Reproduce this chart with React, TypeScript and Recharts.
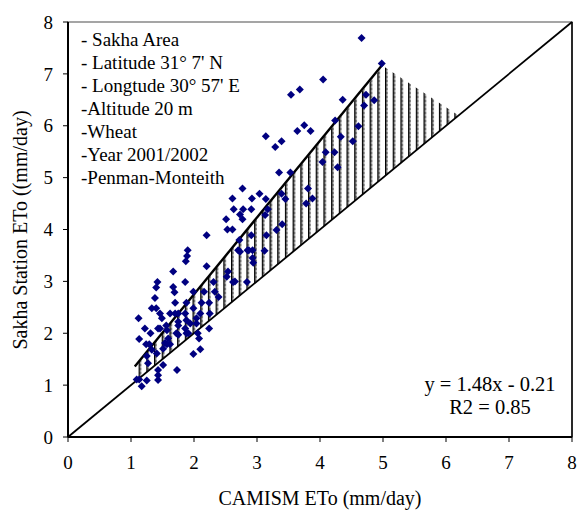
import { Area, ComposedChart, ReferenceArea, ReferenceLine, Scatter, XAxis, YAxis } from "recharts";

// CAMISM ETo (x) and Sakha station ETo (y), mm/day
const camismEto = [
	1.09, 1.13, 1.17, 1.25, 1.12, 1.13, 1.22, 1.31, 1.43, 1.33, 1.4, 1.46, 1.49, 1.24, 1.29, 1.33, 1.25, 1.41, 1.27, 1.43,
	1.43, 1.43, 1.51, 1.42, 1.4, 1.38, 1.46, 1.51, 1.54, 1.59, 1.57, 1.62, 1.56, 1.57, 1.75, 1.72, 1.75, 1.86, 1.88, 1.91,
	1.62, 1.7, 1.75, 1.86, 1.75, 1.88, 1.73, 1.7, 1.88, 1.99, 1.67, 1.69, 1.86, 1.67, 1.87, 1.89, 1.9, 1.99, 1.99, 1.94,
	2.04, 2.1, 2.04, 2.06, 2.08, 2.1, 2.12, 2.24, 2.24, 2.25, 2.16, 2.31, 2.33, 2.39, 2.2, 2.2, 2.52, 2.54, 2.62, 2.65,
	2.84, 2.7, 2.73, 2.85, 2.93, 2.93, 2.94, 2.51, 2.53, 2.61, 2.72, 2.61, 2.77, 2.63, 2.78, 2.73, 2.77, 2.91, 2.92, 2.87,
	3.04, 3.14, 3.17, 3.13, 3.15, 3.12, 2.91, 3.31, 3.4, 3.39, 3.45, 3.35, 3.29, 3.39, 3.14, 3.53, 3.54, 3.68, 3.64, 3.75,
	3.85, 3.81, 3.88, 3.78, 4.05, 4.04, 4.09, 4.23, 4.28, 4.24, 4.33, 4.36, 4.52, 4.61, 4.7, 4.73, 4.86, 4.66, 4.98,
];
const stationEto = [
	1.11, 1.11, 0.98, 1.09, 2.29, 1.89, 2.09, 2.0, 2.09, 2.48, 2.48, 2.38, 2.29, 1.79, 1.79, 1.68, 1.56, 1.61, 1.42, 1.29,
	1.19, 1.1, 1.39, 2.99, 2.88, 2.68, 2.09, 1.7, 1.81, 1.9, 1.79, 1.79, 2.15, 2.06, 2.15, 2.0, 1.97, 2.09, 2.0, 2.0,
	2.38, 2.38, 2.38, 2.38, 2.22, 2.25, 1.29, 2.59, 2.59, 2.48, 2.89, 2.79, 2.99, 3.19, 3.39, 3.49, 3.6, 2.8, 1.6, 2.19,
	2.29, 2.38, 2.19, 2.0, 1.9, 1.69, 2.59, 2.59, 2.09, 2.38, 2.8, 2.99, 2.8, 2.7, 3.29, 3.89, 3.09, 3.19, 2.99, 3.0,
	2.99, 3.6, 3.57, 3.6, 3.6, 3.45, 3.36, 4.2, 4.0, 4.0, 3.8, 4.6, 4.79, 4.39, 4.39, 4.29, 4.2, 4.39, 4.6, 3.6,
	4.69, 4.59, 4.39, 4.28, 3.89, 3.59, 3.89, 3.99, 4.1, 4.69, 4.59, 5.1, 5.59, 5.7, 5.8, 5.1, 6.6, 6.7, 5.9, 6.01,
	5.9, 4.79, 4.6, 4.5, 6.89, 5.3, 5.49, 5.49, 5.2, 6.1, 5.79, 6.5, 5.7, 5.99, 6.39, 6.6, 6.49, 7.69, 7.2,
];

// hatched band between the 1:1 line and the regression line
const bandX = [1.06, 5.0, 6.2];
const bandLow = [1.06, 5.0, 6.2];
const bandHigh = [1.36, 7.15, 6.2];

// regression y = 1.48x - 0.21, drawn over the data range
const regStart = { x: 1.06, y: 1.36 };
const regEnd = { x: 5.0, y: 7.19 };

const axisTicks = [0, 1, 2, 3, 4, 5, 6, 7, 8];

const infoLines = [
	"- Sakha Area",
	"- Latitude 31° 7' N",
	"- Longtude 30° 57' E",
	"-Altitude 20 m",
	"-Wheat",
	"-Year 2001/2002",
	"-Penman-Monteith",
];

const points = camismEto.map((x, i) => ({ x, y: stationEto[i] }));
const bandData = bandX.map((x, i) => ({ x, band: [bandLow[i], bandHigh[i]] }));

const FONT = "'Liberation Serif', 'Times New Roman', serif";
const NAVY = "#000080";

function Diamond(props: any) {
	const { cx, cy } = props;
	if (cx == null || cy == null) return null;
	const r = 4;
	return <path d={`M${cx},${cy - r}L${cx + r},${cy}L${cx},${cy + r}L${cx - r},${cy}Z`} fill={NAVY} />;
}

export default function App() {
	const tickStyle = { fill: "#000", fontSize: 19, fontFamily: FONT };
	return (
		<div style={{ position: "absolute", left: 0, top: 0, width: 579, height: 511, background: "#fff", fontFamily: FONT }}>
			<ComposedChart width={579} height={511} data={bandData} margin={{ top: 22, right: 7, bottom: 34, left: 8 }}>
				<defs>
					<pattern id="hatch" patternUnits="userSpaceOnUse" width={7.7} height={4}>
						<rect x={0} y={0} width={1.6} height={4} fill="#000" />
						<rect x={1.6} y={0} width={1} height={2} fill="#555" />
						<rect x={1.6} y={2} width={1} height={2} fill="#aaa" />
					</pattern>
				</defs>
				<XAxis
					type="number"
					dataKey="x"
					domain={[0, 8]}
					ticks={axisTicks}
					height={40}
					axisLine={{ stroke: "#000", strokeWidth: 2 }}
					tickLine={{ stroke: "#000" }}
					tickSize={5}
					tickMargin={14}
					tick={tickStyle}
					allowDataOverflow
				/>
				<YAxis
					type="number"
					domain={[0, 8]}
					ticks={axisTicks}
					width={60}
					axisLine={{ stroke: "#000", strokeWidth: 2 }}
					tickLine={{ stroke: "#000" }}
					tickSize={5}
					tickMargin={10}
					tick={tickStyle}
					allowDataOverflow
				/>
				<ReferenceArea x1={0} x2={8} y1={0} y2={8} fill="none" stroke="#888" strokeWidth={1.5} />
				<ReferenceLine x={8} stroke="#000" strokeWidth={1.5} />
				<Area
					type="linear"
					dataKey="band"
					stroke="none"
					fill="url(#hatch)"
					fillOpacity={1}
					isAnimationActive={false}
					activeDot={false}
				/>
				<ReferenceLine
					segment={[
						{ x: 0, y: 0 },
						{ x: 8, y: 8 },
					]}
					stroke="#000"
					strokeWidth={1.8}
				/>
				<ReferenceLine segment={[regStart, regEnd]} stroke="#000" strokeWidth={2.4} />
				<Scatter data={points} dataKey="y" shape={Diamond} isAnimationActive={false} />
			</ComposedChart>

			<div style={{ position: "absolute", left: 81, top: 28, fontSize: 19, lineHeight: "23px", color: "#000" }}>
				{infoLines.map((line) => (
					<div key={line} style={{ whiteSpace: "pre" }}>
						{line}
					</div>
				))}
			</div>

			<div
				style={{
					position: "absolute",
					left: 390,
					width: 200,
					top: 373,
					textAlign: "center",
					fontSize: 20.5,
					lineHeight: "23px",
					color: "#000",
				}}
			>
				<div>y = 1.48x - 0.21</div>
				<div>R2 = 0.85</div>
			</div>

			<div
				style={{
					position: "absolute",
					left: 170,
					width: 300,
					top: 486,
					textAlign: "center",
					fontSize: 20,
					lineHeight: "24px",
					color: "#000",
				}}
			>
				CAMISM ETo (mm/day)
			</div>

			<div
				style={{
					position: "absolute",
					left: 20 - 150,
					width: 300,
					top: 230 - 12,
					textAlign: "center",
					fontSize: 20,
					lineHeight: "24px",
					color: "#000",
					transform: "rotate(-90deg)",
					transformOrigin: "150px 12px",
				}}
			>
				Sakha Station ETo ((mm/day)
			</div>
		</div>
	);
}
